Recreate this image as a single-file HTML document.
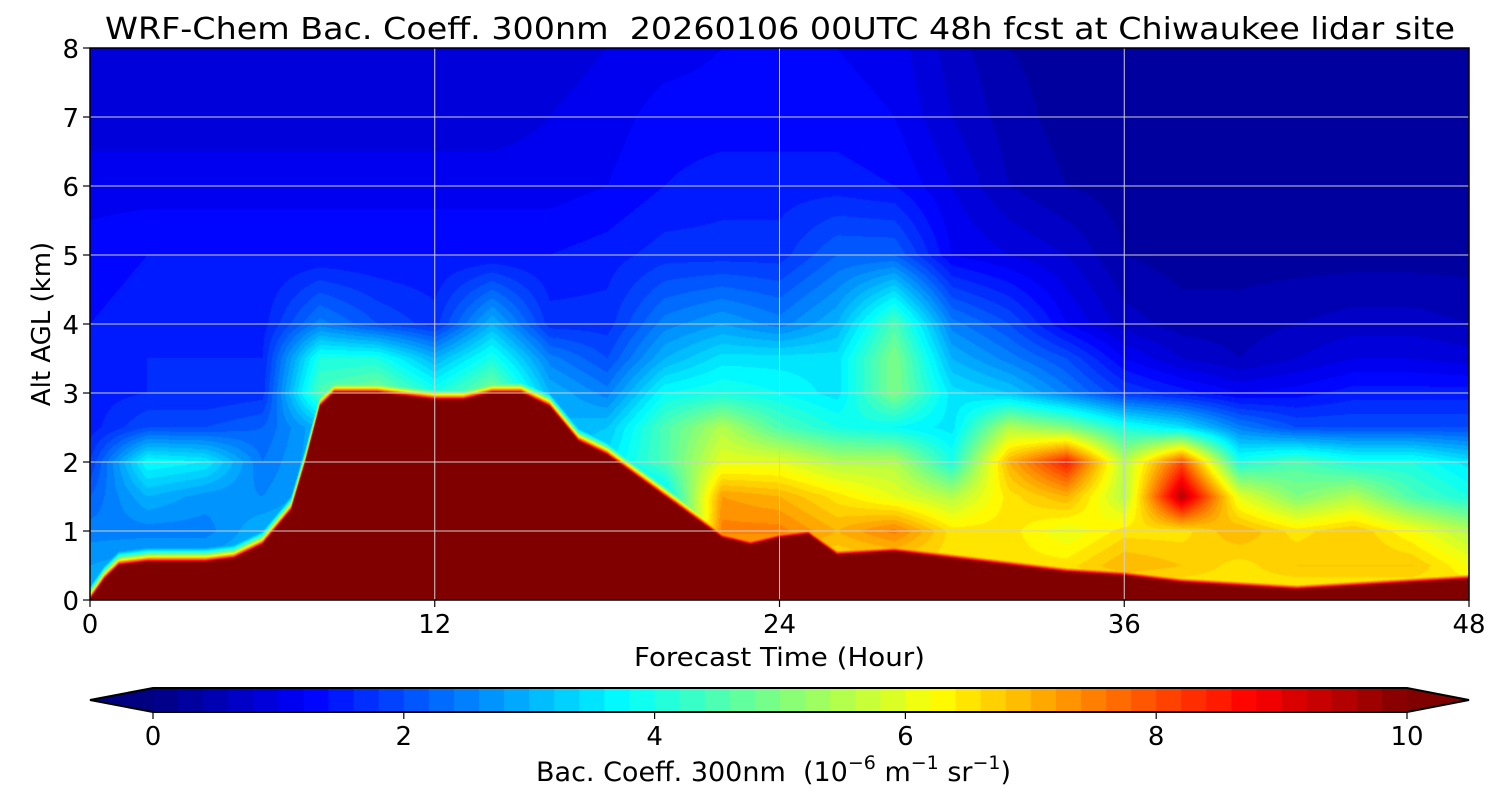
<!DOCTYPE html>
<html><head><meta charset="utf-8">
<style>
html,body{margin:0;padding:0;background:#fff;}
body{width:1500px;height:800px;position:relative;overflow:hidden;font-family:"DejaVu Sans","Liberation Sans",sans-serif;}
#field{position:absolute;left:90px;top:48px;}
svg{position:absolute;left:0;top:0;}
</style></head>
<body>
<canvas id="field" width="1379" height="552"></canvas>
<svg id="ov" width="1500" height="800"></svg>
<script>
// ---- data ----
const gridTimes = [0,2,4,6,8,10,12,14,16,18,20,22,24,26,28,30,32,34,36,38,40,42,44,46,48];
const gridLevels = [0,0.25,0.5,1,1.5,2,2.5,3,3.5,4,5,6,7,8];
const lev0   = [2.8,3,3,3,3,3,3,3,3,3,3,6.5,6.5,6.5,6.5,6.5,6.5,6.5,6.5,6.5,6.5,6.5,6.5,6.5,6.5];
const lev025 = [2.8,3,3,3,3,3,3,3,3,3,3,6.5,6.5,6.5,6.5,6.5,6.5,6.5,6.5,6.5,6.5,6.5,6.5,6.5,6.5];
const lev05  = [2.8,3,3,3,3,3,3,3,3,3,3,6.5,6.5,6.5,6.5,6.5,6.5,6.5,7,6.8,6.5,6.8,6.8,6.8,6.2];
const lev1   = [2.5,2.5,2.5,3,3,3,3,3,3,3,3,7.5,7.5,7,7.5,6.5,6.5,6,6.5,6.5,7,6.5,6.8,6.2,5.5];
const lev15  = [2.2,3,2.7,2.6,3,3,3,3,3,3,3.5,7.2,7,6.5,6,5.5,6.5,7,5.5,9.5,6,5,5.5,4.5,4];
const lev2   = [1.8,3.8,3.6,2.4,3,3,3,3,3,3.5,4.5,6,6,5.5,5.5,4,7,8.5,5.5,8,4,4.5,4,4,3.5];
const lev25  = [1.5,2,2,2.2,3,3,3,3,3,3.2,4.5,5.5,4.5,4,3.8,3.5,5.5,5,4,3.5,2.5,2,2,2,2];
const lev3   = [1.5,1.6,1.6,1.7,4.5,5,4,5,3,2.5,3.8,4,3.8,3.5,5,3.5,3.2,2.5,1.8,1.5,1.2,1.3,1.5,1.5,1.5];
const lev35  = [1.5,1.6,1.6,1.6,4,4,3,4,2.5,2,3,3.5,3.5,3.5,5,3,2.5,2,1.2,0.8,0.6,0.8,1,1,0.9];
const lev4   = [1.4,1.5,1.5,1.5,2.5,2,1.7,3,1.7,1.7,2.5,2.8,2.5,3,4.5,2.5,2,1.2,0.7,0.5,0.5,0.6,0.7,0.7,0.6];
const lev5   = [1.3,1.4,1.4,1.4,1.4,1.4,1.4,1.4,1.4,1.5,1.7,1.7,1.7,2.2,2.2,1.2,1,0.8,0.4,0.3,0.3,0.3,0.3,0.3,0.3];
const lev6   = [1.1,1.1,1.1,1.1,1.1,1.1,1.1,1.1,1.1,1.2,1.4,1.5,1.5,1.5,1.4,1,0.6,0.4,0.3,0.25,0.25,0.25,0.25,0.25,0.25];
const lev7   = [0.9,0.9,0.9,0.9,0.9,0.9,0.9,0.9,1,1.1,1.3,1.3,1.3,1.3,1.2,0.8,0.5,0.3,0.25,0.2,0.2,0.2,0.2,0.2,0.2];
const lev8   = [0.8,0.8,0.8,0.8,0.8,0.8,0.8,0.8,0.9,1,1.1,1.2,1.2,1.2,1.1,0.7,0.4,0.3,0.2,0.2,0.2,0.2,0.2,0.2,0.2];
const layerTimes = [0,0.5,1,2,3,4,5,6,7,7.5,8,8.5,10,12,13,14,15,16,17,18,19,20,21,22,23,24,25,26,28,30,32,34,36,38,40,42,44,46,48];
const layerTops  = [0,0.3,0.5,0.55,0.55,0.55,0.6,0.8,1.3,2,2.8,3,3,2.9,2.9,3,3,2.8,2.3,2.1,1.8,1.5,1.2,0.9,0.8,0.9,0.95,0.65,0.7,0.6,0.5,0.4,0.35,0.25,0.2,0.15,0.2,0.25,0.3];
const xTicks = [0,12,24,36,48];
const yTicks = [0,1,2,3,4,5,6,7,8];
const cbTicks = [0,2,4,6,8,10];

const grid = [lev0,lev025,lev05,lev1,lev15,lev2,lev25,lev3,lev35,lev4,lev5,lev6,lev7,lev8];
// ---- axes ----
const PX0=90, PX1=1469, PY0=48, PY1=600;
const xs = t => PX0 + (t-gridTimes[0])/(gridTimes[gridTimes.length-1]-gridTimes[0])*(PX1-PX0);
const ys = z => PY1 - z/8*(PY1-PY0);
const CB0=153, CB1=1407;
const cx = v => CB0 + v/10*(CB1-CB0);

function jet(v){
  let x=Math.max(0,Math.min(1,v/10));
  const c=a=>Math.max(0,Math.min(1,a));
  return [c(1.5-Math.abs(4*x-3)),c(1.5-Math.abs(4*x-2)),c(1.5-Math.abs(4*x-1))].map(a=>Math.round(a*255));
}
function interp1(xa,ya,x){
  if(x<=xa[0])return ya[0];
  for(let i=1;i<xa.length;i++){ if(x<=xa[i]){const f=(x-xa[i-1])/(xa[i]-xa[i-1]);return ya[i-1]+f*(ya[i]-ya[i-1]);} }
  return ya[ya.length-1];
}
function field(t,z){
  const top=interp1(layerTimes,layerTops,t);
  if(z<top) return 12;
  const col=grid.map(r=>interp1(gridTimes,r,t));
  const g=interp1(gridLevels,col,z);
  const fr=10*Math.exp(-(z-top)/0.16);
  return Math.max(g,fr);
}
// ---- draw field ----
const cv=document.getElementById('field'), ctx=cv.getContext('2d');
const W=cv.width,H=cv.height, img=ctx.createImageData(W,H);
for(let py=0;py<H;py++){
  const z=(PY1-(PY0+py+0.5))/(PY1-PY0)*8;
  for(let px=0;px<W;px++){
    const t=(px+0.5)/W*48;
    let v=field(t,z);
    v=v>=10?10:Math.floor(v/0.2)*0.2+0.1;
    const c=jet(v), k=(py*W+px)*4;
    img.data[k]=c[0];img.data[k+1]=c[1];img.data[k+2]=c[2];img.data[k+3]=255;
  }
}
ctx.putImageData(img,0,0);
// ---- overlay ----
const NS='http://www.w3.org/2000/svg', svg=document.getElementById('ov');
const FF='DejaVu Sans, Liberation Sans, sans-serif';
function mk(tag,attrs,parent){const e=document.createElementNS(NS,tag);for(const k in attrs)e.setAttribute(k,attrs[k]);(parent||svg).appendChild(e);return e;}
function txt(s,attrs){const e=mk('text',Object.assign({'font-family':FF,'fill':'#000'},attrs));e.textContent=s;return e;}
xTicks.forEach(t=>{ if(t>0&&t<48){const l=mk('line',{x1:xs(t),x2:xs(t),y1:PY0,y2:PY1,stroke:'#d0d0d0','stroke-width':1});

}});
yTicks.forEach(z=>{ if(z>0&&z<8){const l=mk('line',{x1:PX0,x2:PX1,y1:ys(z),y2:ys(z),stroke:'#d0d0d0','stroke-width':1});

}});
const frame=mk('rect',{x:PX0,y:PY0,width:PX1-PX0,height:PY1-PY0,fill:'none',stroke:'#000','stroke-width':1.5});


xTicks.forEach(t=>{
  mk('line',{x1:xs(t),x2:xs(t),y1:PY1,y2:PY1+7,stroke:'#000','stroke-width':1.2});
  const e=txt(String(t),{x:xs(t),y:633,'font-size':26,'text-anchor':'middle'});
  
  
});
yTicks.forEach(z=>{
  mk('line',{x1:PX0-7,x2:PX0,y1:ys(z),y2:ys(z),stroke:'#000','stroke-width':1.2});
  const e=txt(String(z),{x:79,y:ys(z)+10,'font-size':26,'text-anchor':'end'});
  
  
});
const title=txt('WRF-Chem Bac. Coeff. 300nm\u00a0 20260106 00UTC 48h fcst at Chiwaukee lidar site',{x:105,y:39,'font-size':30,textLength:1350,lengthAdjust:'spacingAndGlyphs'});


const xl=txt('Forecast Time (Hour)',{x:634,y:666,'font-size':26,textLength:291,lengthAdjust:'spacingAndGlyphs'});


const yl=txt('Alt AGL (km)',{x:0,y:0,'font-size':26,'text-anchor':'middle',transform:'translate(50,324) rotate(-90)'});


// colorbar
const cbY=688, cbH=24, nSeg=50;
for(let i=0;i<nSeg;i++){
  const v0=i*10/nSeg, c=jet(v0+5/nSeg);
  const r=mk('rect',{x:cx(v0),y:cbY,width:(CB1-CB0)/nSeg+0.6,height:cbH,fill:`rgb(${c})`});
  
  
}
const lt=mk('polygon',{points:`${CB0},${cbY} ${PX0},${cbY+cbH/2} ${CB0},${cbY+cbH}`,fill:'rgb(0,0,128)'});


const rt=mk('polygon',{points:`${CB1},${cbY} ${PX1},${cbY+cbH/2} ${CB1},${cbY+cbH}`,fill:'rgb(128,0,0)'});


const ob=mk('polygon',{points:`${CB0},${cbY} ${CB1},${cbY} ${PX1},${cbY+cbH/2} ${CB1},${cbY+cbH} ${CB0},${cbY+cbH} ${PX0},${cbY+cbH/2}`,fill:'none',stroke:'#000','stroke-width':2});


cbTicks.forEach(v=>{
  mk('line',{x1:cx(v),x2:cx(v),y1:cbY+cbH,y2:cbY+cbH+7,stroke:'#000','stroke-width':1.2});
  const e=txt(String(v),{x:cx(v),y:745,'font-size':26,'text-anchor':'middle'});
  
  
});
const cl=mk('text',{x:536,y:781,'font-size':27,'font-family':FF,fill:'#000'});


cl.innerHTML='Bac. Coeff. 300nm\u00a0 (10<tspan dy="-12" font-size="19">−6</tspan><tspan dy="12"> m</tspan><tspan dy="-12" font-size="19">−1</tspan><tspan dy="12"> sr</tspan><tspan dy="-12" font-size="19">−1</tspan><tspan dy="12">)</tspan>';
</script>
</body></html>
